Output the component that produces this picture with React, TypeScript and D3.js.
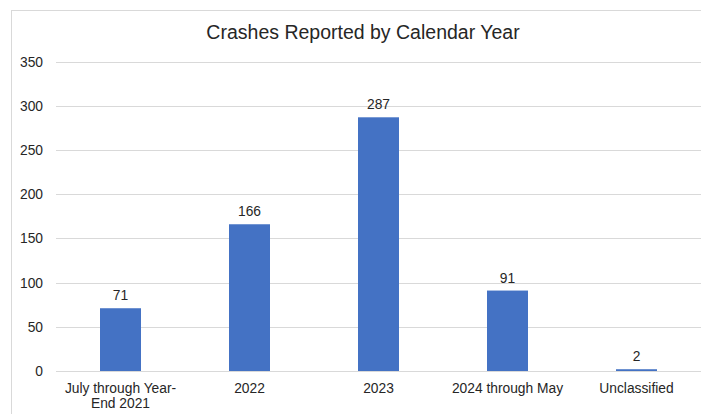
import React from "react";
import * as d3 from "d3";

const categories: string[][] = [
  ["July through Year-", "End 2021"],
  ["2022"],
  ["2023"],
  ["2024 through May"],
  ["Unclassified"],
];
const categoryKeys = ["July through Year-End 2021", "2022", "2023", "2024 through May", "Unclassified"];
const values = [71, 166, 287, 91, 2];
const yTicks = [0, 50, 100, 150, 200, 250, 300, 350];
const title = "Crashes Reported by Calendar Year";

const W = 701;
const H = 414;
const FONT = "'Liberation Sans', Arial, sans-serif";
const TEXT = "#262626";
const FS = 13.8;

export default function App() {
  const x = d3.scaleBand<string>().domain(categoryKeys).range([56, 701]).paddingInner(0).paddingOuter(0);
  const y = d3.scaleLinear().domain([0, 350]).range([371, 61.6]);
  const barW = 41;

  return (
    <svg width={W} height={H} style={{ position: "fixed", left: 0, top: 0, background: "#fff" }}>
      <rect x={11.5} y={10.5} width={W} height={H} fill="#fff" stroke="#d9d9d9" strokeWidth={1} />
      <text x={363} y={38.5} textAnchor="middle" fontFamily={FONT} fontSize={19.5} fill={TEXT}>
        {title}
      </text>
      {yTicks.map((t) => (
        <g key={t}>
          <line x1={56} x2={701} y1={Math.round(y(t)) + 0.5} y2={Math.round(y(t)) + 0.5} stroke="#d9d9d9" strokeWidth={1} />
          <text x={43} y={y(t) + 5} textAnchor="end" fontFamily={FONT} fontSize={FS} fill={TEXT}>
            {t}
          </text>
        </g>
      ))}
      {values.map((v, i) => {
        const cx = (x(categoryKeys[i]) as number) + x.bandwidth() / 2;
        return (
          <g key={i}>
            <rect x={cx - barW / 2} y={y(v)} width={barW} height={y(0) - y(v)} fill="#4472C4" />
            <text x={cx} y={y(v) - 8} textAnchor="middle" fontFamily={FONT} fontSize={FS} fill={TEXT}>
              {v}
            </text>
            {categories[i].map((line, j) => (
              <text key={j} x={cx} y={392.5 + j * 15.5} textAnchor="middle" fontFamily={FONT} fontSize={FS} fill={TEXT}>
                {line}
              </text>
            ))}
          </g>
        );
      })}
    </svg>
  );
}
